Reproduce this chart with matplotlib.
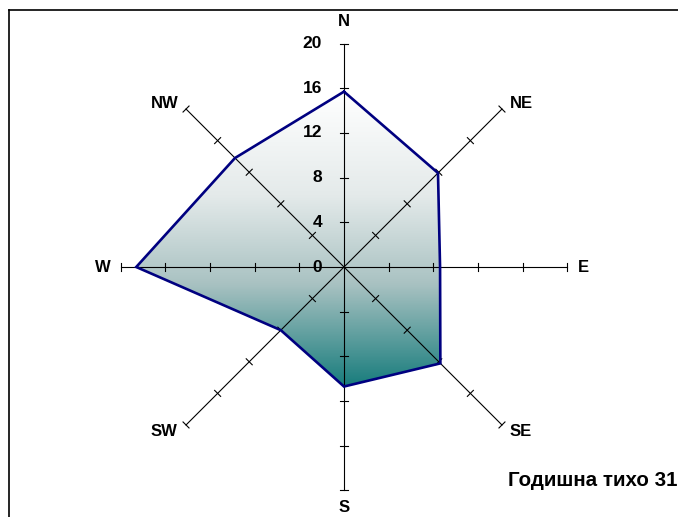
import numpy as np
import matplotlib
matplotlib.use('Agg')
import matplotlib.pyplot as plt
from matplotlib.colors import LinearSegmentedColormap
from matplotlib.lines import Line2D
from matplotlib.patches import Polygon

directions = ['N', 'NE', 'E', 'SE', 'S', 'SW', 'W', 'NW']
values = [15.7, 11.9, 8.6, 12.2, 10.7, 8.0, 18.6, 13.8]
tick_values = [0, 4, 8, 12, 16, 20]
caption = 'Годишна тихо 31'

R_MAX = 20
PX_PER_UNIT = 223.4 / R_MAX
W, H = 678, 517
CX, CY = 344, 267

plt.rcParams['font.family'] = ['Liberation Sans', 'DejaVu Sans']
plt.rcParams['font.weight'] = 'bold'

fig = plt.figure(figsize=(W / 100, H / 100), dpi=100)
ax = fig.add_axes([0, 0, 1, 1])
ax.set_xlim(-CX / PX_PER_UNIT, (W - CX) / PX_PER_UNIT)
ax.set_ylim(-(H - CY) / PX_PER_UNIT, CY / PX_PER_UNIT)
ax.axis('off')

angles = np.deg2rad(np.arange(len(directions)) * 45)
xs = np.array(values) * np.sin(angles)
ys = np.array(values) * np.cos(angles)

# gradient fill clipped to the polygon
poly = Polygon(np.column_stack([xs, ys]), closed=True, facecolor='none',
               edgecolor='none')
ax.add_patch(poly)
cmap = LinearSegmentedColormap.from_list(
    'teal', [(0, '#ffffff'), (0.35, '#e4eaea'), (0.65, '#a9c2c2'),
             (1, '#177c7c')])
grad = np.linspace(0, 1, 256).reshape(-1, 1)
img = ax.imshow(grad, cmap=cmap, aspect='auto',
                extent=[xs.min(), xs.max(), ys.min(), ys.max()],
                origin='upper', zorder=1)
img.set_clip_path(poly)

# axes lines with ticks
tick_len = 0.38
for a in angles[:4]:
    dx, dy = np.sin(a), np.cos(a)
    ax.plot([-R_MAX * dx, R_MAX * dx], [-R_MAX * dy, R_MAX * dy],
            color='black', lw=0.8, zorder=2)
    for t in range(-R_MAX, R_MAX + 1, 4):
        if t == 0:
            continue
        px, py = t * dx, t * dy
        ax.plot([px - tick_len * dy, px + tick_len * dy],
                [py + tick_len * dx, py - tick_len * dx],
                color='black', lw=0.8, zorder=2)

ax.plot(np.append(xs, xs[0]), np.append(ys, ys[0]), color='#000080',
        lw=1.9, zorder=3, solid_joinstyle='miter')

for t in tick_values:
    ax.text(-1.95, t, str(t), ha='right', va='center', fontsize=12.5,
            fontweight='bold', zorder=4)

label_offsets = {'N': (0, 22), 'NE': (19, 6), 'E': (16, 0), 'SE': (19, -7),
                 'S': (0, -17), 'SW': (-22, -7), 'W': (-18, 0), 'NW': (-21, 6)}
for name, a in zip(directions, angles):
    ax.annotate(name, (R_MAX * np.sin(a), R_MAX * np.cos(a)),
                xytext=label_offsets[name], textcoords='offset pixels',
                ha='center', va='center', fontsize=12, fontweight='bold')

fig.text(0.9995, 1 - 480 / H, caption, ha='right', va='center',
         fontsize=14.8, fontweight='bold')

# frame (only left and top edges fall inside the image)
fig.add_artist(Line2D([9 / W, 9 / W], [0, 1 - 10 / H], color='black', lw=1.2,
                      transform=fig.transFigure))
fig.add_artist(Line2D([9 / W, 1], [1 - 10 / H, 1 - 10 / H], color='black',
                      lw=1.2, transform=fig.transFigure))

fig.savefig('out.png', dpi=100)
